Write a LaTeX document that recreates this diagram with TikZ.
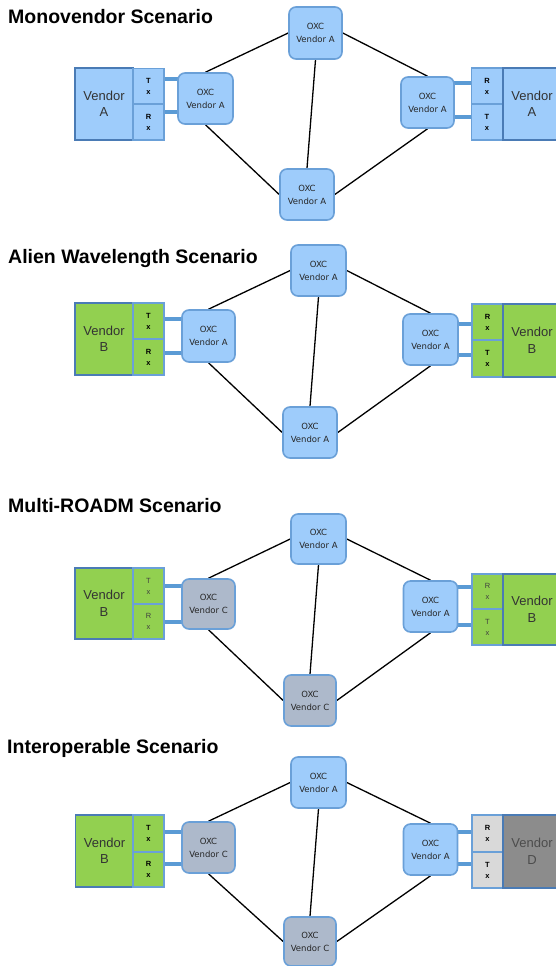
\documentclass[tikz,border=0pt]{standalone}
\usepackage{fontspec}
\setmainfont{Liberation Sans}
\newfontfamily\oxcfont{DejaVu Sans}
\usetikzlibrary{backgrounds}
\definecolor{oxcA}{HTML}{9ECCFB}
\definecolor{oxcC}{HTML}{ADB9CB}
\definecolor{oxcline}{HTML}{6AA0D8}
\definecolor{vendA}{HTML}{9ECCFB}
\definecolor{vendline}{HTML}{4A7BB5}
\definecolor{trxline}{HTML}{6AA0D8}
\definecolor{vgreen}{HTML}{92D050}
\definecolor{vgrey}{HTML}{8C8C8C}
\definecolor{lgrey}{HTML}{D9D9D9}
\definecolor{fibercol}{HTML}{5B9BD5}
\definecolor{vtext}{HTML}{333333}
\tikzset{
  title/.style={anchor=base west, inner sep=0pt, font=\bfseries\fontsize{19.5}{22}\selectfont},
  oxc/.style={draw=oxcline, line width=1.6pt, rounded corners=7pt, align=center, inner sep=0pt,
    font=\oxcfont\fontsize{8.5}{13}\selectfont, text=black!85},
  oxca/.style={oxc, fill=oxcA},
  oxcc/.style={oxc, fill=oxcC},
  vendbox/.style={draw=vendline, line width=1.3pt, align=center, inner sep=0pt, minimum width=58pt,
    font=\fontsize{13}{16.5}\selectfont, text=vtext},
  trx/.style={draw=trxline, line width=1.3pt, align=center, inner sep=0pt, minimum width=31pt,
    font=\bfseries\fontsize{7.5}{11}\selectfont},
  trxlight/.style={trx, font=\fontsize{7.5}{11}\selectfont, text=black!75},
  fiber/.style={draw=fibercol, line width=4pt},
  link/.style={draw=black, line width=1.3pt},
}
\begin{document}
\begin{tikzpicture}[x=1pt, y=-1pt]
\useasboundingbox (0,0) rectangle (556,966);

% ---------- Scenario 1 ----------
\node[title] (t1) at (8,24) {Monovendor Scenario};
\node[vendbox, fill=vendA, minimum height=72pt] (L1v) at (104,104) {Vendor\\A};
\node[trx, fill=vendA, minimum height=35.5pt] (L1t) at (148.5,86) {T\\x};
\node[trx, fill=vendA, minimum height=36pt] (L1r) at (148.5,122) {R\\x};
\node[oxca, minimum width=55pt, minimum height=51pt] (L1o) at (205.5,98.5) {OXC\\Vendor A};
\node[oxca, minimum width=53pt, minimum height=52pt] (T1) at (315.5,33) {OXC\\Vendor A};
\node[oxca, minimum width=53pt, minimum height=51pt] (R1o) at (427.5,102.5) {OXC\\Vendor A};
\node[oxca, minimum width=54pt, minimum height=51pt] (B1) at (307,194.5) {OXC\\Vendor A};
\node[trx, fill=vendA, minimum height=36pt] (R1r) at (487,86) {R\\x};
\node[trx, fill=vendA, minimum height=36pt] (R1t) at (487,122) {T\\x};
\node[vendbox, fill=vendA, minimum height=72pt] (R1v) at (532,104) {Vendor\\A};

% ---------- Scenario 2 ----------
\node[title] (t2) at (8,263) {Alien Wavelength Scenario};
\node[vendbox, fill=vgreen, minimum height=72pt] (L2v) at (104,339) {Vendor\\B};
\node[trx, fill=vgreen, minimum height=36pt] (L2t) at (148.5,321) {T\\x};
\node[trx, fill=vgreen, minimum height=36pt] (L2r) at (148.5,357) {R\\x};
\node[oxca, minimum width=53pt, minimum height=52pt] (L2o) at (208.5,336) {OXC\\Vendor A};
\node[oxca, minimum width=55pt, minimum height=51pt] (T2) at (318.5,270.5) {OXC\\Vendor A};
\node[oxca, minimum width=55pt, minimum height=51pt] (R2o) at (430.5,339.5) {OXC\\Vendor A};
\node[oxca, minimum width=54pt, minimum height=51pt] (B2) at (310,432.5) {OXC\\Vendor A};
\node[trx, fill=vgreen, minimum height=36pt] (R2r) at (487.5,322) {R\\x};
\node[trx, fill=vgreen, minimum height=37pt] (R2t) at (487.5,358.5) {T\\x};
\node[vendbox, fill=vgreen, minimum height=73pt] (R2v) at (532,340.5) {Vendor\\B};

% ---------- Scenario 3 ----------
\node[title] (t3) at (8,512) {Multi-ROADM Scenario};
\node[vendbox, fill=vgreen, minimum height=71pt] (L3v) at (104,603.5) {Vendor\\B};
\node[trxlight, fill=vgreen, minimum height=36pt] (L3t) at (148.5,586) {T\\x};
\node[trxlight, fill=vgreen, minimum height=35pt] (L3r) at (148.5,621.5) {R\\x};
\node[oxcc, minimum width=53pt, minimum height=50pt] (L3o) at (208.5,604) {OXC\\Vendor C};
\node[oxca, minimum width=55pt, minimum height=50pt] (T3) at (318.5,539) {OXC\\Vendor A};
\node[oxca, minimum width=54pt, minimum height=51pt] (R3o) at (430.5,606.5) {OXC\\Vendor A};
\node[oxcc, minimum width=52pt, minimum height=51pt] (B3) at (310,700.5) {OXC\\Vendor C};
\node[trxlight, fill=vgreen, minimum height=35pt] (R3r) at (487.5,591.5) {R\\x};
\node[trxlight, fill=vgreen, minimum height=36pt] (R3t) at (487.5,627) {T\\x};
\node[vendbox, fill=vgreen, minimum height=71pt] (R3v) at (532,609.5) {Vendor\\B};

% ---------- Scenario 4 ----------
\node[title] (t4) at (7,753) {Interoperable Scenario};
\node[vendbox, fill=vgreen, minimum height=72pt] (L4v) at (104.5,851) {Vendor\\B};
\node[trx, fill=vgreen, minimum height=37pt] (L4t) at (148.5,833.5) {T\\x};
\node[trx, fill=vgreen, minimum height=35pt] (L4r) at (148.5,869.5) {R\\x};
\node[oxcc, minimum width=53pt, minimum height=51pt] (L4o) at (208.5,847.5) {OXC\\Vendor C};
\node[oxca, minimum width=55pt, minimum height=51pt] (T4) at (318.5,782.5) {OXC\\Vendor A};
\node[oxca, minimum width=54pt, minimum height=51pt] (R4o) at (430.5,849.5) {OXC\\Vendor A};
\node[oxcc, minimum width=52pt, minimum height=49pt] (B4) at (310,941.5) {OXC\\Vendor C};
\node[trx, fill=lgrey, minimum height=37pt] (R4r) at (487.5,833.5) {R\\x};
\node[trx, fill=lgrey, minimum height=36pt] (R4t) at (487.5,870) {T\\x};
\node[vendbox, fill=vgrey, minimum height=73pt, text=black!70] (R4v) at (532,851.5) {Vendor\\D};

\begin{pgfonlayer}{background}
  \fill[white] (0,0) rectangle (556,966);
  % fibers
  \draw[fiber] (L1t.east |- 0,79) -- (L1o.center |- 0,79);
  \draw[fiber] (L1r.east |- 0,112) -- (L1o.center |- 0,112);
  \draw[fiber] (R1r.west |- 0,83) -- (R1o.center |- 0,83);
  \draw[fiber] (R1t.west |- 0,117) -- (R1o.center |- 0,117);
  \draw[fiber] (L2t.east |- 0,319) -- (L2o.center |- 0,319);
  \draw[fiber] (L2r.east |- 0,353) -- (L2o.center |- 0,353);
  \draw[fiber] (R2r.west |- 0,324) -- (R2o.center |- 0,324);
  \draw[fiber] (R2t.west |- 0,355) -- (R2o.center |- 0,355);
  \draw[fiber] (L3t.east |- 0,586) -- (L3o.center |- 0,586);
  \draw[fiber] (L3r.east |- 0,622) -- (L3o.center |- 0,622);
  \draw[fiber] (R3r.west |- 0,587) -- (R3o.center |- 0,587);
  \draw[fiber] (R3t.west |- 0,625) -- (R3o.center |- 0,625);
  \draw[fiber] (L4t.east |- 0,832) -- (L4o.center |- 0,832);
  \draw[fiber] (L4r.east |- 0,864) -- (L4o.center |- 0,864);
  \draw[fiber] (R4r.west |- 0,832) -- (R4o.center |- 0,832);
  \draw[fiber] (R4t.west |- 0,864) -- (R4o.center |- 0,864);
  % links
  \foreach \s in {1,2,3,4}{
    \draw[link] (L\s o.north) -- (T\s.west);
    \draw[link] (T\s.east) -- (R\s o.north);
    \draw[link] (T\s.south) -- (B\s.north);
    \draw[link] (L\s o.south) -- (B\s.west);
    \draw[link] (B\s.east) -- (R\s o.south);
  }
\end{pgfonlayer}
\end{tikzpicture}
\end{document}
